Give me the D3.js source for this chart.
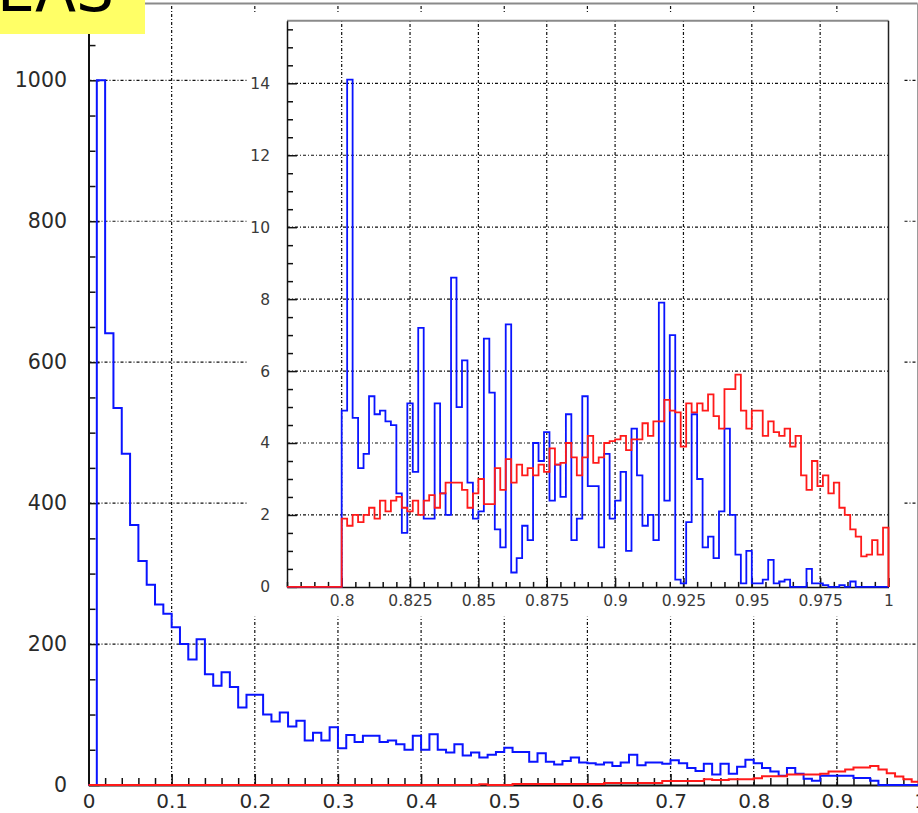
<!DOCTYPE html>
<html>
<head>
<meta charset="utf-8">
<script src="https://cdn.jsdelivr.net/npm/d3@7"></script>
<style>
  html, body { margin: 0; padding: 0; background: #fff; }
  svg { display: block; }
</style>
</head>
<body>
<svg id="chart" width="918" height="813"></svg>
<script>
// ---------- Full-range histogram: 100 bins of width 0.01 on [0, 1] ----------
const mainBinStart = 0;
const mainBinWidth = 0.01;
const mainBlue = [
  0, 1000, 641, 535, 470, 369, 318, 284, 256, 243,
  224, 200, 178, 207, 157, 141, 160, 139, 110, 128,
  128, 100, 90, 103, 83, 91, 63, 74, 63, 82,
  52, 71, 61, 70, 70, 61, 63, 58, 50, 70,
  50, 72, 50, 46, 58, 42, 46, 39, 43, 47,
  53, 47, 47, 33, 45, 33, 29, 34, 39, 32,
  31, 29, 32, 27, 32, 43, 28, 32, 32, 30,
  35, 31, 24, 20, 30, 15, 30, 16, 26, 36,
  31, 24, 19, 13, 24, 16, 9, 6, 13, 13,
  13, 13, 10, 10, 6, 0, 0, 0, 0, 0
];
const mainRed = [
  0, 0, 0, 0, 0, 0, 0, 0, 0, 0,
  0, 0, 0, 0, 0, 0, 0, 0, 0, 0,
  0, 0, 0, 0, 0, 0, 0, 0, 0, 0,
  0, 0, 0, 0, 0, 0, 0, 0, 0, 0,
  0, 0, 0, 0, 0, 0, 0, 1, 0, 0,
  0, 1.5, 1.5, 1.5, 1.5, 1.5, 1.5, 1.5, 1.5, 1.5,
  1.5, 1.5, 3, 3, 3, 3, 3, 3, 3, 5.5,
  5.5, 5.5, 5.5, 5.5, 8, 7, 7, 8, 8, 8,
  9.5, 12.5, 12.5, 12.5, 15, 15, 15, 15, 16, 19,
  19, 22, 25, 25, 27, 22, 16.5, 12, 8, 4.7
];
const mainXTicks = [0, 0.1, 0.2, 0.3, 0.4, 0.5, 0.6, 0.7, 0.8, 0.9, 1];
const mainXLabels = ["0", "0.1", "0.2", "0.3", "0.4", "0.5", "0.6", "0.7", "0.8", "0.9", "1"];
const mainYTicks = [0, 200, 400, 600, 800, 1000];
const mainYLabels = ["0", "200", "400", "600", "800", "1000"];

// ---------- Zoomed histogram: 110 bins of width 0.002 on [0.78, 1] ----------
const zoomBinStart = 0.78;
const zoomBinWidth = 0.002;
const zoomBlue = [
  0, 0, 0, 0, 0, 0, 0, 0, 0, 0,
  4.9, 14.1, 4.7, 3.3, 3.7, 5.3, 4.8, 4.9, 4.6, 4.5,
  2.6, 1.5, 5.1, 3.2, 7.2, 1.9, 1.9, 5.1, 2.6, 2.0,
  8.6, 5.0, 6.3, 2.9, 1.9, 2.1, 6.9, 5.4, 1.6, 1.1,
  7.3, 0.4, 0.8, 1.7, 1.3, 4.0, 3.5, 4.3, 2.4, 3.4,
  2.5, 4.8, 1.3, 1.9, 5.3, 2.8, 2.8, 1.1, 3.7, 1.9,
  2.4, 3.2, 1.0, 4.4, 3.1, 1.7, 2.0, 1.3, 7.9, 2.4,
  7.0, 0.2, 0.1, 1.8, 4.8, 3.0, 1.1, 1.4, 0.8, 2.1,
  4.4, 2.0, 0.9, 0.1, 1.0, 0.1, 0.1, 0.2, 0.75, 0.1,
  0.15, 0.2, 0, 0, 0, 0.5, 0.1, 0.1, 0.05, 0,
  0, 0.05, 0, 0.15, 0, 0, 0, 0, 0, 0
];
const zoomRed = [
  0, 0, 0, 0, 0, 0, 0, 0, 0, 0,
  1.9, 1.7, 2.0, 1.8, 2.0, 2.2, 1.9, 2.4, 2.1, 2.4,
  2.5, 2.2, 2.1, 2.4, 2.0, 2.4, 2.55, 2.2, 2.6, 2.9,
  2.9, 2.9, 2.7, 2.2, 2.6, 3.0, 2.3, 2.3, 3.3, 2.7,
  3.55, 2.9, 3.4, 3.1, 3.3, 3.1, 3.4, 3.2, 3.85, 3.4,
  3.45, 4.0, 3.6, 3.1, 3.6, 4.2, 3.45, 3.6, 4.0, 4.05,
  4.1, 4.2, 3.8, 4.1, 4.1, 4.55, 4.2, 4.6, 4.6, 5.2,
  4.9, 4.85, 3.9, 5.1, 4.85, 5.1, 4.9, 5.35, 4.75, 4.4,
  5.5, 5.5, 5.9, 4.9, 4.4, 4.9, 4.9, 4.2, 4.6, 4.3,
  4.2, 4.4, 3.9, 4.2, 3.1, 2.7, 3.5, 2.8, 3.1, 2.6,
  2.9, 2.2, 2.0, 1.6, 1.4, 0.85, 0.9, 1.3, 0.9, 1.65
];
const zoomXTicks = [0.8, 0.825, 0.85, 0.875, 0.9, 0.925, 0.95, 0.975, 1];
const zoomXLabels = ["0.8", "0.825", "0.85", "0.875", "0.9", "0.925", "0.95", "0.975", "1"];
const zoomYTicks = [0, 2, 4, 6, 8, 10, 12, 14];
const zoomYLabels = ["0", "2", "4", "6", "8", "10", "12", "14"];

const headerText = "EAS";

// ---------- helpers ----------
const svg = d3.select("#chart");
const FONT = "'DejaVu Sans', sans-serif";
const GRID_DASH = "3,2,1,2";

// Outline of a histogram drawn as a stepped line, closed to zero at both ends
function stepPoints(values, start, width) {
  const pts = [[start, 0]];
  values.forEach((v, i) => {
    const a = start + i * width;
    const b = start + (i + 1) * width;
    pts.push([a, v], [b, v]);
  });
  pts.push([start + values.length * width, 0]);
  return pts;
}
function range(a, b, step) {
  const out = [];
  const n = Math.round((b - a) / step);
  for (let i = 0; i <= n; i++) out.push(+(a + i * step).toFixed(6));
  return out;
}
function styleAxis(g, fontSize, color) {
  g.attr("font-family", FONT).attr("font-size", fontSize);
  g.selectAll(".tick line").attr("stroke", "#111").attr("stroke-width", 1.5);
  g.selectAll(".tick text").attr("fill", color);
}

// ---------- main frame ----------
const x = d3.scaleLinear().domain([0, 1]).range([88.5, 920]);
const y = d3.scaleLinear().domain([0, 1109]).range([785, 3.5]);
const frameRight = 917.5;

// grid
const mainGrid = svg.append("g");
mainGrid.selectAll("line.v").data(mainXTicks.slice(1, -1)).join("line")
  .attr("class", "v")
  .attr("x1", d => x(d)).attr("x2", d => x(d))
  .attr("y1", y(0)).attr("y2", y.range()[1])
  .attr("stroke", "#111").attr("stroke-width", 1.2).attr("stroke-dasharray", GRID_DASH);
mainGrid.selectAll("line.h").data(mainYTicks.slice(1)).join("line")
  .attr("class", "h")
  .attr("x1", x(0)).attr("x2", frameRight)
  .attr("y1", d => y(d)).attr("y2", d => y(d))
  .attr("stroke", "#111").attr("stroke-width", 1.2).attr("stroke-dasharray", GRID_DASH);

// top and right frame edges
svg.append("line").attr("x1", x(0)).attr("x2", frameRight)
  .attr("y1", y.range()[1]).attr("y2", y.range()[1])
  .attr("stroke", "#8a8a8a").attr("stroke-width", 2);
svg.append("line").attr("x1", frameRight).attr("x2", frameRight)
  .attr("y1", y.range()[1]).attr("y2", y(0))
  .attr("stroke", "#9a9a9a").attr("stroke-width", 1);

// axes (ticks point inward)
const mainXMinor = range(0, 1, 0.02).filter(v => !mainXTicks.some(t => Math.abs(t - v) < 1e-6));
const mainYMinor = range(0, 1100, 50).filter(v => v % 200 !== 0);

const gxMinor = svg.append("g").attr("transform", `translate(0,${y(0)})`)
  .call(d3.axisBottom(x).tickValues(mainXMinor).tickFormat("").tickSize(-7));
gxMinor.select(".domain").remove();
styleAxis(gxMinor, 20, "#333");

const gx = svg.append("g").attr("transform", `translate(0,${y(0)})`)
  .call(d3.axisBottom(x).tickValues(mainXTicks).tickFormat((d, i) => mainXLabels[i])
    .tickSizeInner(-11).tickSizeOuter(0).tickPadding(8.5));
gx.select(".domain").attr("stroke", "#111").attr("stroke-width", 2);
styleAxis(gx, 20, "#2a2a2a");

const gyMinor = svg.append("g").attr("transform", `translate(${x(0)},0)`)
  .call(d3.axisLeft(y).tickValues(mainYMinor).tickFormat("").tickSize(-7));
gyMinor.select(".domain").remove();
styleAxis(gyMinor, 20, "#333");

const gy = svg.append("g").attr("transform", `translate(${x(0)},0)`)
  .call(d3.axisLeft(y).tickValues(mainYTicks).tickFormat((d, i) => mainYLabels[i])
    .tickSizeInner(-11).tickSizeOuter(0).tickPadding(21.5));
gy.select(".domain").attr("stroke", "#111").attr("stroke-width", 2);
styleAxis(gy, 20.5, "#2a2a2a");

// histograms
const mainLine = d3.line().x(d => x(d[0])).y(d => y(d[1]));
svg.append("path").attr("d", mainLine(stepPoints(mainBlue, mainBinStart, mainBinWidth)))
  .attr("fill", "none").attr("stroke", "#0a14ff").attr("stroke-width", 2);
svg.append("path").attr("d", mainLine(stepPoints(mainRed, mainBinStart, mainBinWidth)))
  .attr("fill", "none").attr("stroke", "#ff1a1a").attr("stroke-width", 2);

// ---------- zoomed inset ----------
const xi = d3.scaleLinear().domain([0.78, 1]).range([287, 888.5]);
const yi = d3.scaleLinear().domain([0, 15.74]).range([586.9, 20.7]);

svg.append("rect").attr("x", 247).attr("y", 12).attr("width", 656).attr("height", 604.7)
  .attr("fill", "#fff");

const inGrid = svg.append("g");
inGrid.selectAll("line.v").data(zoomXTicks.slice(0, -1)).join("line")
  .attr("class", "v")
  .attr("x1", d => xi(d)).attr("x2", d => xi(d))
  .attr("y1", yi(0)).attr("y2", yi.range()[1])
  .attr("stroke", "#111").attr("stroke-width", 1.2).attr("stroke-dasharray", GRID_DASH);
inGrid.selectAll("line.h").data(zoomYTicks.slice(1)).join("line")
  .attr("class", "h")
  .attr("x1", xi.range()[0]).attr("x2", xi.range()[1])
  .attr("y1", d => yi(d)).attr("y2", d => yi(d))
  .attr("stroke", "#111").attr("stroke-width", 1.2).attr("stroke-dasharray", GRID_DASH);

// inset frame: top (grey) and right edges
svg.append("line").attr("x1", xi.range()[0]).attr("x2", xi.range()[1])
  .attr("y1", yi.range()[1]).attr("y2", yi.range()[1])
  .attr("stroke", "#8a8a8a").attr("stroke-width", 2);
svg.append("line").attr("x1", xi.range()[1]).attr("x2", xi.range()[1])
  .attr("y1", yi.range()[1]).attr("y2", yi(0))
  .attr("stroke", "#222").attr("stroke-width", 1.5);

const zoomXMinor = range(0.78, 1, 0.005).filter(v => !zoomXTicks.some(t => Math.abs(t - v) < 1e-6));
const zoomYMinor = range(0, 15.5, 0.5).filter(v => Math.abs(v % 2) > 1e-6);

const gxiMinor = svg.append("g").attr("transform", `translate(0,${yi(0)})`)
  .call(d3.axisBottom(xi).tickValues(zoomXMinor).tickFormat("").tickSize(-5));
gxiMinor.select(".domain").remove();
styleAxis(gxiMinor, 15, "#444");

const gxi = svg.append("g").attr("transform", `translate(0,${yi(0)})`)
  .call(d3.axisBottom(xi).tickValues(zoomXTicks).tickFormat((d, i) => zoomXLabels[i])
    .tickSizeInner(-9).tickSizeOuter(0).tickPadding(8));
gxi.select(".domain").attr("stroke", "#111").attr("stroke-width", 1.5);
styleAxis(gxi, 15.5, "#3a3a3a");

const gyiMinor = svg.append("g").attr("transform", `translate(${xi(0.78)},0)`)
  .call(d3.axisLeft(yi).tickValues(zoomYMinor).tickFormat("").tickSize(-6));
gyiMinor.select(".domain").remove();
styleAxis(gyiMinor, 15, "#444");

const gyi = svg.append("g").attr("transform", `translate(${xi(0.78)},0)`)
  .call(d3.axisLeft(yi).tickValues(zoomYTicks).tickFormat((d, i) => zoomYLabels[i])
    .tickSizeInner(-10).tickSizeOuter(0).tickPadding(17));
gyi.select(".domain").attr("stroke", "#111").attr("stroke-width", 1.5);
styleAxis(gyi, 15.5, "#3a3a3a");

const zoomLine = d3.line().x(d => xi(d[0])).y(d => yi(d[1]));
svg.append("path").attr("d", zoomLine(stepPoints(zoomBlue, zoomBinStart, zoomBinWidth)))
  .attr("fill", "none").attr("stroke", "#0a14ff").attr("stroke-width", 1.8);
svg.append("path").attr("d", zoomLine(stepPoints(zoomRed, zoomBinStart, zoomBinWidth)))
  .attr("fill", "none").attr("stroke", "#ff1a1a").attr("stroke-width", 1.8);

// ---------- header tag (top-left) ----------
svg.append("rect").attr("x", 0).attr("y", 0).attr("width", 145).attr("height", 34)
  .attr("fill", "#ffff66");
svg.append("text").attr("x", -3).attr("y", 11)
  .attr("font-family", FONT).attr("font-size", 60)
  .attr("fill", "#000")
  .text(headerText);
</script>
</body>
</html>
